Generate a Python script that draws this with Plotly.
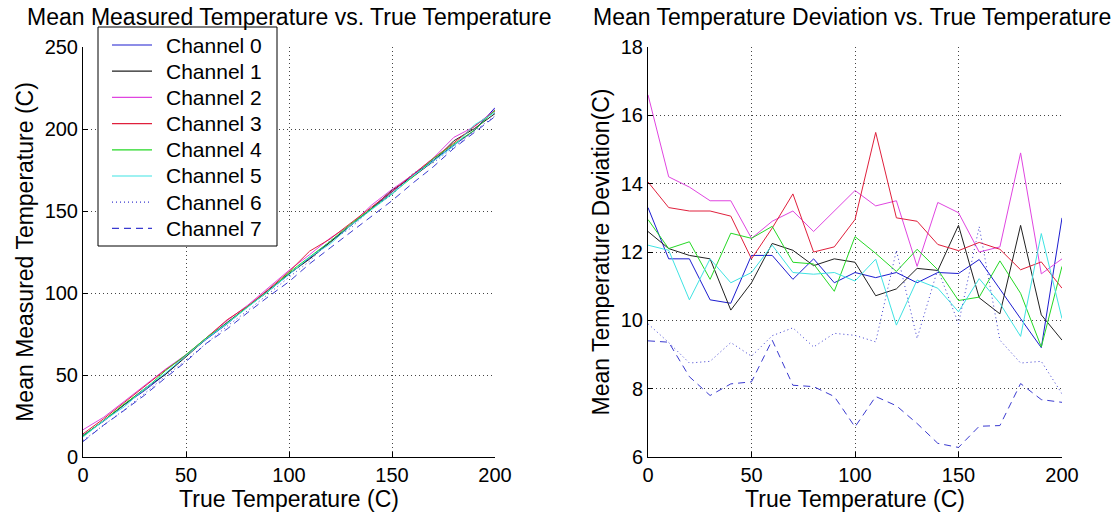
import plotly.graph_objects as go

true_temp = [0, 10, 20, 30, 40, 50, 60, 70, 80, 90, 100, 110, 120, 130, 140, 150, 160, 170, 180, 190, 200]

channel_names = ["Channel 0", "Channel 1", "Channel 2", "Channel 3",
                 "Channel 4", "Channel 5", "Channel 6", "Channel 7"]

# Mean measured temperature (left panel)
meas_ch0 = [13.3, 21.8, 31.8, 40.6, 50.5, 61.9, 71.9, 81.2, 91.8, 101.1, 111.4, 121.2, 131.4, 141.1, 151.4, 161.4, 171.8, 180.9, 190.1, 199.2, 213.0]
meas_ch1 = [12.6, 22.1, 31.9, 41.8, 50.3, 61.1, 72.3, 82.1, 91.6, 101.8, 111.7, 120.7, 130.9, 141.6, 151.5, 162.8, 170.7, 180.2, 192.8, 200.2, 209.4]
meas_ch2 = [16.6, 24.2, 33.9, 43.5, 53.5, 62.4, 72.9, 83.2, 92.6, 103.2, 113.8, 123.4, 133.5, 141.6, 153.5, 163.2, 172.0, 182.2, 194.9, 201.4, 211.8]
meas_ch3 = [14.1, 23.3, 33.2, 43.2, 53.1, 61.8, 72.7, 83.7, 92.0, 102.2, 113.0, 125.5, 133.0, 142.9, 152.3, 162.0, 172.3, 182.1, 191.5, 201.7, 211.0]
meas_ch4 = [13.0, 22.1, 32.3, 41.2, 52.6, 62.4, 72.8, 81.7, 91.7, 100.9, 112.5, 122.0, 131.5, 142.1, 151.5, 160.6, 170.7, 181.8, 190.8, 199.2, 211.6]
meas_ch5 = [12.2, 22.1, 30.6, 41.8, 51.1, 61.4, 72.2, 81.4, 91.4, 101.4, 111.2, 121.8, 129.9, 141.2, 151.0, 160.3, 171.2, 180.6, 189.6, 202.5, 210.1]
meas_ch6 = [10.0, 19.4, 28.8, 38.8, 49.3, 59.0, 69.5, 79.8, 89.3, 99.6, 109.6, 119.4, 132.1, 139.5, 151.6, 159.9, 172.8, 179.4, 188.8, 198.8, 207.9]
meas_ch7 = [9.4, 19.4, 28.4, 37.8, 48.2, 58.2, 69.4, 78.1, 88.1, 97.8, 106.9, 117.8, 127.5, 137.0, 146.4, 156.3, 166.9, 176.9, 188.2, 197.7, 207.6]

# Mean temperature deviation (right panel)
dev_ch0 = [13.3, 11.8, 11.8, 10.6, 10.5, 11.9, 11.9, 11.2, 11.8, 11.1, 11.4, 11.25, 11.4, 11.1, 11.4, 11.37, 11.78, 10.9, 10.05, 9.2, 13.0]
dev_ch1 = [12.6, 12.1, 11.9, 11.8, 10.3, 11.1, 12.25, 12.05, 11.6, 11.8, 11.7, 10.72, 10.92, 11.52, 11.46, 12.78, 10.66, 10.19, 12.78, 10.16, 9.42]
dev_ch2 = [16.6, 14.2, 13.9, 13.5, 13.5, 12.4, 12.9, 13.2, 12.6, 13.2, 13.8, 13.35, 13.5, 11.58, 13.45, 13.15, 12.0, 12.15, 14.9, 11.36, 11.8]
dev_ch3 = [14.05, 13.3, 13.2, 13.2, 13.05, 11.8, 12.7, 13.7, 12.0, 12.15, 12.95, 15.5, 13.0, 12.9, 12.22, 12.04, 12.28, 12.08, 11.48, 11.71, 10.94]
dev_ch4 = [12.95, 12.1, 12.3, 11.2, 12.55, 12.4, 12.75, 11.7, 11.65, 10.85, 12.45, 11.96, 11.43, 12.08, 11.48, 10.58, 10.68, 11.74, 10.79, 9.22, 11.58]
dev_ch5 = [12.2, 12.05, 10.6, 11.8, 11.1, 11.4, 12.2, 11.4, 11.35, 11.4, 11.15, 11.79, 9.86, 11.18, 10.94, 10.25, 11.22, 10.5, 9.53, 12.54, 10.05]
dev_ch6 = [9.9, 9.35, 8.75, 8.8, 9.35, 8.95, 9.55, 9.78, 9.22, 9.62, 9.56, 9.37, 12.05, 9.47, 11.5, 9.9, 12.74, 9.42, 8.75, 8.8, 7.85]
dev_ch7 = [9.4, 9.36, 8.35, 7.8, 8.14, 8.2, 9.42, 8.1, 8.06, 7.77, 6.88, 7.77, 7.5, 6.98, 6.4, 6.28, 6.9, 6.92, 8.15, 7.68, 7.6]

measured = [meas_ch0, meas_ch1, meas_ch2, meas_ch3, meas_ch4, meas_ch5, meas_ch6, meas_ch7]
deviation = [dev_ch0, dev_ch1, dev_ch2, dev_ch3, dev_ch4, dev_ch5, dev_ch6, dev_ch7]

colors = ["#1c1cd0", "#202020", "#e045e0", "#e0203c", "#25d825", "#3fe3e3", "#3a3ad0", "#3a3ad0"]
dashes = ["solid", "solid", "solid", "solid", "solid", "solid", "1px,3px", "7px,5px"]

W, H = 1117, 519
ML, MR, MT, MB = 83, 55, 47, 62
PW, PH = W - ML - MR, H - MT - MB


def px(xp):
    return (xp - ML) / PW


def py(yp):
    return (H - MB - yp) / PH


fig = go.Figure()
for i in range(8):
    fig.add_trace(go.Scatter(x=true_temp, y=measured[i], mode="lines", name=channel_names[i],
                             line=dict(color=colors[i], width=1, dash=dashes[i]),
                             xaxis="x", yaxis="y", showlegend=False))
for i in range(8):
    fig.add_trace(go.Scatter(x=true_temp, y=deviation[i], mode="lines", name=channel_names[i],
                             line=dict(color=colors[i], width=1, dash=dashes[i]),
                             xaxis="x2", yaxis="y2", showlegend=False))

font_family = "Liberation Sans, Arial, sans-serif"
axis_common = dict(
    showgrid=True, gridcolor="#444444", griddash="1px,3px", gridwidth=1,
    showline=True, linecolor="black", linewidth=1, mirror=False,
    ticks="inside", ticklen=5, tickcolor="black",
    zeroline=False, tickfont=dict(size=20, color="black", family=font_family),
    title_font=dict(size=23, color="black", family=font_family),
)

# Legend box drawn in the left panel (paper coordinates)
shapes = [dict(type="rect", xref="paper", yref="paper",
               x0=px(98), x1=px(277), y0=py(246), y1=py(27),
               fillcolor="white", line=dict(color="black", width=1), layer="above")]
annotations = []
for i, name in enumerate(channel_names):
    yrow = 45 + 26.2 * i
    shapes.append(dict(type="line", xref="paper", yref="paper",
                       x0=px(112), x1=px(152), y0=py(yrow), y1=py(yrow),
                       line=dict(color=colors[i], width=1.2, dash=dashes[i]), layer="above"))
    annotations.append(dict(text=name, xref="paper", yref="paper", x=px(164), y=py(yrow),
                            xanchor="left", yanchor="middle", showarrow=False,
                            font=dict(size=21, color="black", family=font_family)))

annotations += [
    dict(text="Mean Measured Temperature vs. True Temperature", xref="paper", yref="paper",
         x=px(289), y=py(17), xanchor="center", yanchor="middle", showarrow=False,
         font=dict(size=23, color="black", family=font_family)),
    dict(text="Mean Temperature Deviation vs. True Temperature", xref="paper", yref="paper",
         x=px(852), y=py(17), xanchor="center", yanchor="middle", showarrow=False,
         font=dict(size=23, color="black", family=font_family)),
]

fig.update_layout(
    width=W, height=H,
    margin=dict(l=ML, r=MR, t=MT, b=MB),
    paper_bgcolor="white", plot_bgcolor="white",
    font=dict(family=font_family, color="black", size=20),
    showlegend=False,
    xaxis=dict(domain=[0, px(495)], range=[0, 200], tickvals=[0, 50, 100, 150, 200],
               title=dict(text="True Temperature (C)", standoff=2), anchor="y", **axis_common),
    yaxis=dict(domain=[0, 1], range=[0, 250], tickvals=[0, 50, 100, 150, 200, 250],
               title=dict(text="Mean Measured Temperature (C)", standoff=4), anchor="x", **axis_common),
    xaxis2=dict(domain=[px(648), 1], range=[0, 200], tickvals=[0, 50, 100, 150, 200],
                title=dict(text="True Temperature (C)", standoff=2), anchor="y2", **axis_common),
    yaxis2=dict(domain=[0, 1], range=[6, 18], tickvals=[6, 8, 10, 12, 14, 16, 18],
                title=dict(text="Mean Temperature Deviation(C)", standoff=4), anchor="x2", **axis_common),
    shapes=shapes,
    annotations=annotations,
)

fig.write_html("out.html", config={"displayModeBar": False},
               post_script="document.body.style.margin='0';")
